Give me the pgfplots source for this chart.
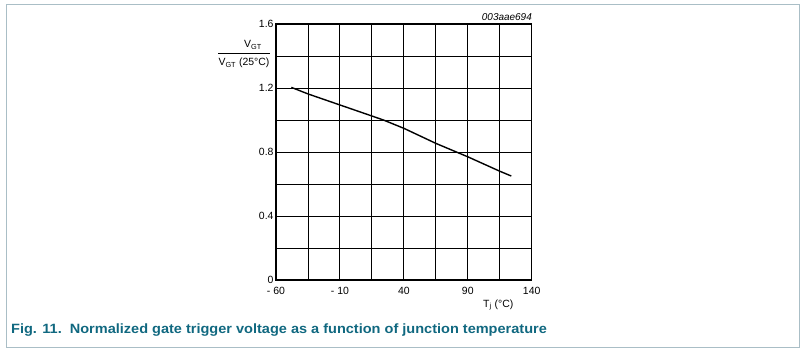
\documentclass[border=0pt]{standalone}
\usepackage{pgfplots}
\pgfplotsset{compat=1.18}
\usepackage{fontspec}
\setmainfont{Liberation Sans}
\definecolor{framecol}{RGB}{170,190,198}
\definecolor{titlecol}{RGB}{16,104,128}
\begin{document}
\begin{tikzpicture}[x=1bp,y=1bp]
\path[use as bounding box] (0,0) rectangle (806,353);
\draw[framecol,line width=1.6bp] (6.5,5.5) rectangle (799.5,348.5);
\begin{axis}[
  at={(276bp,73bp)}, anchor=south west,
  scale only axis, width=255.7bp, height=256bp,
  xmin=-60, xmax=140, ymin=0, ymax=1.6,
  xtick={-60,-10,40,90,140},
  xticklabels={- 60,- 10,40,90,140},
  minor xtick={-35,15,65,115},
  ytick={0,0.4,0.8,1.2,1.6},
  yticklabels={0,0.4,0.8,1.2,1.6},
  minor ytick={0.2,0.6,1.0,1.4},
  grid=both,
  major grid style={black,line width=0.9bp},
  minor grid style={black,line width=0.9bp},
  axis line style={black,line width=1.1bp},
  tick style={draw=none},
  major tick length=0pt, minor tick length=0pt,
  tick label style={font=\fontsize{10.5}{12}\selectfont},
  xticklabel style={yshift=-4bp},
  yticklabel style={xshift=1bp},
]
\addplot[black,line width=1.4bp] coordinates {
(-48,1.204) (-35,1.163) (-10,1.094) (15,1.025) (24,1.0) (40,0.948) (65,0.854) (90,0.77) (115,0.68) (124,0.65)
};
\end{axis}
\node[anchor=east,font=\fontsize{10}{12}\selectfont,inner sep=0pt] at (532,336) {\itshape 003aae694};
\node[font=\fontsize{10.5}{12}\selectfont,inner sep=0pt] at (253,308) {V\textsubscript{GT}};
\draw[black,line width=0.8bp] (218,300) -- (270,300);
\node[font=\fontsize{10.5}{12}\selectfont,inner sep=0pt] at (244,290) {V\textsubscript{GT} (25°C)};
\node[anchor=west,font=\fontsize{10.5}{12}\selectfont,inner sep=0pt] at (483,48) {T\textsubscript{j} (°C)};
\node[anchor=west,font=\bfseries\fontsize{13.5}{15}\selectfont,text=titlecol,inner sep=0pt] at (11,23) {\scalebox{1.08}[1]{Fig. 11.\ \ Normalized gate trigger voltage as a function of junction temperature}};
\end{tikzpicture}
\end{document}
